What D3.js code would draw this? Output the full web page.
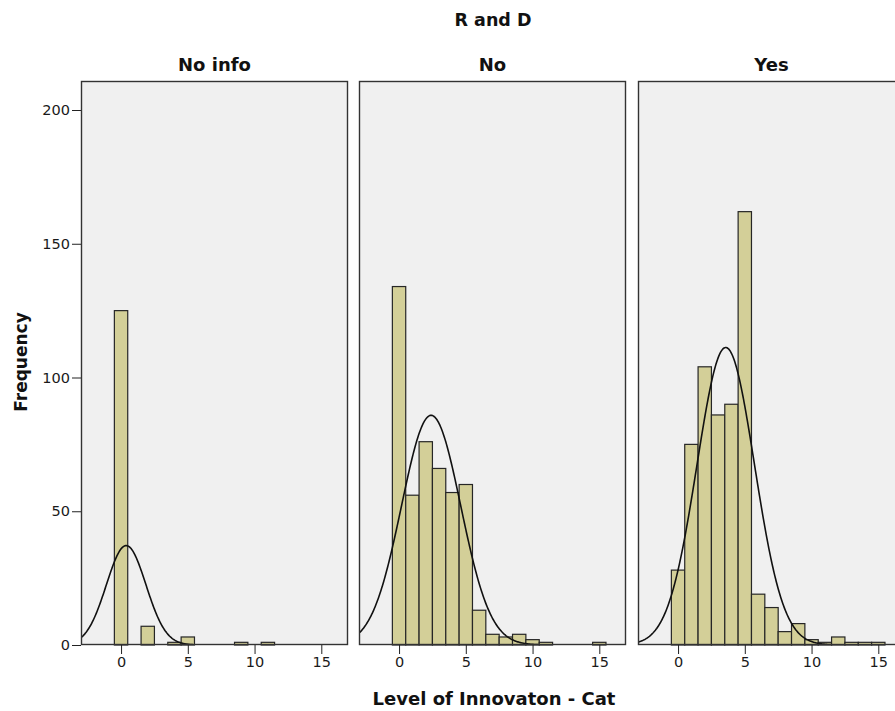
<!DOCTYPE html>
<html>
<head>
<meta charset="utf-8">
<script src="https://cdn.jsdelivr.net/npm/d3@7"></script>
<style>
  body { margin: 0; background: #ffffff; }
  text { font-family: "DejaVu Sans", sans-serif; fill: #111; }
  .lbl { font-weight: bold; font-size: 18px; }
  .tick text { font-size: 14.5px; fill: #1a1a1a; }
</style>
</head>
<body>
<div id="app"></div>
<script>
var width = 895,
  height = 711;

// panel categories and histogram counts (bins of width 1, centred on 0..15)
const panels = ["No info", "No", "Yes"];
const binCenters = [0, 1, 2, 3, 4, 5, 6, 7, 8, 9, 10, 11, 12, 13, 14, 15];
const countsNoInfo = [125, 0, 7, 0, 1, 3, 0, 0, 0, 1, 0, 1, 0, 0, 0, 0];
const countsNo = [134, 56, 76, 66, 57, 60, 13, 4, 3, 4, 2, 1, 0, 0, 0, 1];
const countsYes = [28, 75, 104, 86, 90, 162, 19, 14, 5, 8, 2, 1, 3, 1, 1, 1];
const xTicks = [0, 5, 10, 15];
const yTicks = [0, 50, 100, 150, 200];

const counts = [countsNoInfo, countsNo, countsYes];

let svg = d3
  .select("#app")
  .append("svg")
  .attr("width", width)
  .attr("height", height)
  .attr("style", "background-color:#ffffff");

let plotTop = 81,
  plotBottom = 645,
  panelW = 267,
  panelLefts = [81, 359, 638];

let y = d3.scaleLinear().domain([0, 200]).range([plotBottom, 110]);

// y axis on first panel
svg
  .append("g")
  .attr("transform", "translate(" + panelLefts[0] + ",0)")
  .call(d3.axisLeft(y).tickValues(yTicks).tickSize(9).tickPadding(2))
  .call((g) => g.select(".domain").remove())
  .call((g) => g.selectAll("line").attr("stroke", "#222"));

panels.forEach(function (name, p) {
  let left = panelLefts[p];
  let x = d3.scaleLinear().domain([-3, 17]).range([left, left + panelW]);
  let data = binCenters.map((c, i) => ({ c: c, n: counts[p][i] }));

  let g = svg.append("g").attr("class", "panel");

  let clipId = "clip" + p;
  svg
    .append("clipPath")
    .attr("id", clipId)
    .append("rect")
    .attr("x", left)
    .attr("y", plotTop)
    .attr("width", panelW)
    .attr("height", plotBottom - plotTop);

  g.append("rect")
    .attr("x", left)
    .attr("y", plotTop)
    .attr("width", panelW)
    .attr("height", plotBottom - plotTop)
    .attr("fill", "#f0f0f0");

  // bars
  g.append("g")
    .selectAll("rect")
    .data(data.filter((d) => d.n > 0))
    .enter()
    .append("rect")
    .attr("x", (d) => x(d.c - 0.5))
    .attr("width", (d) => x(d.c + 0.5) - x(d.c - 0.5))
    .attr("y", (d) => y(d.n))
    .attr("height", (d) => y(0) - y(d.n))
    .attr("fill", "#d3cf98")
    .attr("stroke", "#262626")
    .attr("stroke-width", 1.2);

  // fitted normal curve
  let N = d3.sum(data, (d) => d.n);
  let mean = d3.sum(data, (d) => d.n * d.c) / N;
  let sd = Math.sqrt(
    d3.sum(data, (d) => d.n * (d.c - mean) * (d.c - mean)) / (N - 1)
  );
  let pts = d3.range(-3, 17.01, 0.05);
  g.append("path")
    .datum(pts)
    .attr("clip-path", "url(#" + clipId + ")")
    .attr(
      "d",
      d3
        .line()
        .x((d) => x(d))
        .y((d) =>
          y(
            (N / (sd * Math.sqrt(2 * Math.PI))) *
              Math.exp(-((d - mean) * (d - mean)) / (2 * sd * sd))
          )
        )
    )
    .attr("fill", "none")
    .attr("stroke", "#111")
    .attr("stroke-width", 1.6);

  // frame
  g.append("rect")
    .attr("x", left + 0.5)
    .attr("y", plotTop + 0.5)
    .attr("width", panelW - 1)
    .attr("height", plotBottom - plotTop - 1)
    .attr("fill", "none")
    .attr("stroke", "#333")
    .attr("stroke-width", 1.4);

  // x axis
  svg
    .append("g")
    .attr("transform", "translate(0," + plotBottom + ")")
    .call(d3.axisBottom(x).tickValues(xTicks).tickSize(9).tickPadding(3))
    .call((a) => a.select(".domain").remove())
    .call((a) => a.selectAll("line").attr("stroke", "#222"));

  // panel title
  svg
    .append("text")
    .attr("class", "lbl")
    .attr("x", left + panelW / 2)
    .attr("y", 71)
    .attr("text-anchor", "middle")
    .text(name);
});

// overall title
svg
  .append("text")
  .attr("class", "lbl")
  .attr("x", 493)
  .attr("y", 26)
  .attr("text-anchor", "middle")
  .style("font-size", "17.5px")
  .text("R and D");

// axis titles
svg
  .append("text")
  .attr("class", "lbl")
  .attr("x", 494)
  .attr("y", 705)
  .attr("text-anchor", "middle")
  .text("Level of Innovaton - Cat");

svg
  .append("text")
  .attr("class", "lbl")
  .attr("transform", "translate(27,362) rotate(-90)")
  .attr("text-anchor", "middle")
  .style("font-size", "17px")
  .text("Frequency");
</script>
</body>
</html>
